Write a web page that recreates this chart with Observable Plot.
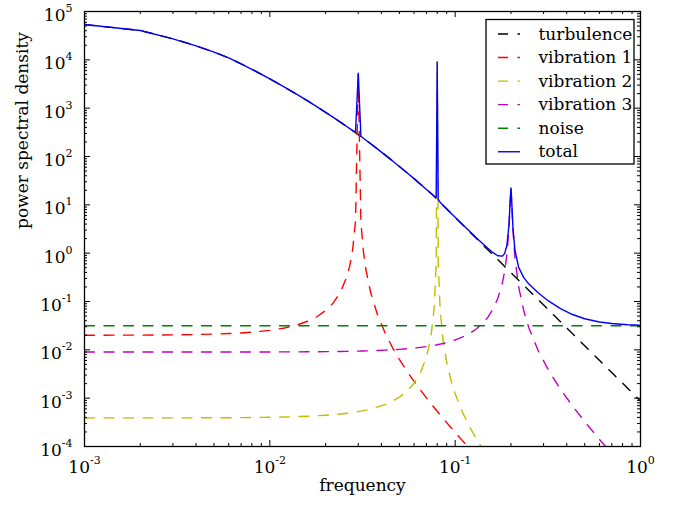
<!DOCTYPE html>
<html><head><meta charset="utf-8">
<script src="https://cdn.jsdelivr.net/npm/d3@7"></script>
<script src="https://cdn.jsdelivr.net/npm/@observablehq/plot@0.6"></script>
<style>
body{margin:0;background:#fff;}
#chart{width:682px;height:508px;}
</style></head><body><div id="chart"></div>
<script>
// ---- data ----
const freq = [0.001,0.002,0.003,0.004,0.005,0.006,0.007,0.008,0.01,0.012,0.014,0.016,0.018,
  0.02,0.022,0.024,0.026,0.027,0.028,0.029,0.03,0.031,0.032,0.033,0.035,0.038,
  0.042,0.046,0.05,0.055,0.06,0.065,0.07,0.074,0.077,0.079,0.08,0.081,0.083,0.086,0.09,0.095,
  0.1,0.11,0.12,0.13,0.14,0.15,0.16,0.17,0.18,0.185,0.19,0.195,0.198,
  0.2,0.202,0.205,0.21,0.22,0.235,0.25,0.28,0.32,0.37,0.43,0.5,0.6,0.7,0.85,1.0];

const turbulence = [53700,40460,27230,19500,14390,10960,8280,6380,4050,2720,1920,1410,1064,
  820,647,516,418,378,343,312,284,259,237,217,184,144,
  107,80.7,62.2,46.1,34.8,26.7,20.8,17.3,15.1,13.6,12.9,12.3,11.2,9.77,8.22,6.67,
  5.50,3.84,2.75,2.03,1.53,1.18,0.923,0.735,0.590,0.531,0.479,0.435,0.408,
  0.394,0.380,0.358,0.328,0.275,0.214,0.169,0.110,0.0662,0.0382,0.0216,0.0121,0.00608,0.00338,0.00162,0.00087];

const vibration1 = [0.02004,0.02018,0.02041,0.02073,0.02116,0.0217,0.02237,0.02318,0.02531,0.02834,0.03269,0.03906,0.04883,
  0.0648,0.0936,0.1543,0.3229,0.554,1.204,4.65,5000,4.35,1.054,0.4535,0.1534,0.05474,
  0.0217,0.01096,0.006328,0.003588,0.002222,0.001465,0.001012,0.000774,0.000641,0.000568,0.000536,0.000506,0.000452,0.000384,0.0003125,0.000245,
  0.000196,0.000129,0.0000889,0.0000633];

const vibration2 = [3.901e-4,3.905e-4,3.911e-4,3.920e-4,3.931e-4,3.944e-4,3.960e-4,3.979e-4,4.025e-4,4.082e-4,4.150e-4,4.232e-4,4.327e-4,
  4.437e-4,4.564e-4,4.710e-4,4.876e-4,4.967e-4,5.065e-4,5.169e-4,5.281e-4,5.400e-4,5.527e-4,5.663e-4,5.965e-4,6.504e-4,
  7.433e-4,8.704e-4,1.050e-3,1.402e-3,2.038e-3,3.377e-3,7.100e-3,0.01871,0.0720,0.632,9000,0.616,0.0668,0.01610,5.527e-3,2.318e-3,
  1.233e-3,4.917e-4,2.496e-4,1.449e-4,9.17e-5,6.16e-5];

const vibration3 = [0.009,0.009002,0.009004,0.009007,0.009011,0.009016,0.009022,0.009029,0.009045,0.009065,0.009089,0.009116,0.009147,
  0.009183,0.009222,0.009265,0.009312,0.009337,0.009363,0.009391,0.009419,0.009449,0.009479,0.009511,0.009578,0.009687,
  0.00985,0.010033,0.01024,0.010533,0.010868,0.011251,0.011688,0.012082,0.012405,0.012635,0.012755,0.012878,0.013135,0.013546,0.014151,0.015009,
  0.016,0.018499,0.021973,0.026986,0.034602,0.04702,0.06931,0.11643,0.24704,0.42463,0.9113,3.1825,11.28,
  21.95,10.95,3.006,0.8213,0.20181,0.061881,0.028387,0.009766,0.003698,0.001534,0.000686,0.0003265,0.0001406,0.0000711,0.0000309,0.0000156];

const noiseFreq = [0.001, 1.0];
const noiseLevel = [0.0315, 0.0315];

const total = [53700,40460,27230,19500,14390,10960,8280,6380,4050,2720,1920,1410,1064,
  820.1,647.1,516.2,418.3,378.6,344.2,316.7,5284,263.4,238.1,217.5,184.2,144.1,
  107.0,80.75,62.24,46.14,34.84,26.75,20.85,17.36,15.22,14.28,9013,12.96,11.31,9.83,8.27,6.72,
  5.55,3.89,2.80,2.09,1.60,1.26,1.024,0.883,0.869,0.988,1.422,3.65,11.72,
  22.38,11.36,3.40,1.181,0.509,0.308,0.229,0.152,0.1014,0.0712,0.0538,0.0439,0.0377,0.0350,0.0331,0.0324];

const seriesNames = ["turbulence", "vibration 1", "vibration 2", "vibration 3", "noise", "total"];
const seriesColors = ["#000000", "#ff0000", "#bfbf00", "#bf00bf", "#008000", "#0000ff"];
const seriesDashed = [true, true, true, true, true, false];

const xTicks = [1e-3, 1e-2, 1e-1, 1];
const yTicks = [1e-4, 1e-3, 1e-2, 1e-1, 1, 1e1, 1e2, 1e3, 1e4, 1e5];
const xLabel = "frequency";
const yLabel = "power spectral density";

// ---- build tables ----
function rows(fs, vs) {
  return fs.map((f, i) => ({f, v: vs[i] ?? null})).filter(d => d.v != null);
}
const seriesData = [
  rows(freq, turbulence),
  rows(freq, vibration1),
  rows(freq, vibration2),
  rows(freq, vibration3),
  rows(noiseFreq, noiseLevel),
  rows(freq, total)
];

function minorTicks(lo, hi) {
  const out = [];
  for (let e = lo; e < hi; e++) for (let k = 2; k <= 9; k++) out.push(k * Math.pow(10, e));
  return out;
}
const xMinor = minorTicks(-3, 0);
const yMinor = minorTicks(-4, 5);

const fmt = d => "10^" + Math.round(Math.log10(d));
const DASH = "10,9.5";

const W = 682, H = 508, ML = 84, MR = 42, MT = 11, MB = 62;
const FW = W - ML - MR, FH = H - MT - MB;

const lineMarks = seriesData.map((data, i) => Plot.line(data, {
  x: "f", y: "v", stroke: seriesColors[i], strokeWidth: 1.4,
  strokeDasharray: seriesDashed[i] ? DASH : null, clip: true
}));

// inward tick marks on all four sides, drawn as short rules
const ts = {stroke: "black", strokeWidth: 1};
const tickMarks = [
  Plot.ruleX(xMinor, {x: d => d, insetTop: FH - 3, ...ts}),
  Plot.ruleX(xMinor, {x: d => d, insetBottom: FH - 3, ...ts}),
  Plot.ruleX(xTicks, {x: d => d, insetTop: FH - 6, ...ts}),
  Plot.ruleX(xTicks, {x: d => d, insetBottom: FH - 6, ...ts}),
  Plot.ruleY(yMinor, {y: d => d, insetRight: FW - 3, ...ts}),
  Plot.ruleY(yMinor, {y: d => d, insetLeft: FW - 3, ...ts}),
  Plot.ruleY(yTicks, {y: d => d, insetRight: FW - 6, ...ts}),
  Plot.ruleY(yTicks, {y: d => d, insetLeft: FW - 6, ...ts})
];

const plot = Plot.plot({
  width: W, height: H,
  marginLeft: ML, marginRight: MR, marginTop: MT, marginBottom: MB,
  style: {fontFamily: "DejaVu Serif", fontSize: "17px", background: "white", color: "black"},
  x: {type: "log", domain: [1e-3, 1], axis: null},
  y: {type: "log", domain: [1e-4, 1e5], axis: null},
  marks: [
    ...lineMarks,
    ...tickMarks,
    Plot.axisX(xTicks, {anchor: "bottom", tickSize: 0, tickPadding: 14, tickFormat: fmt, label: null, fill: "black"}),
    Plot.axisY(yTicks, {anchor: "left", tickSize: 0, tickPadding: 12, tickFormat: fmt, dy: 4, label: null, fill: "black"}),
    Plot.frame({stroke: "black", strokeWidth: 1.3}),
    Plot.text([xLabel], {frameAnchor: "bottom", dy: 44, text: d => d, fill: "black"}),
    Plot.text([yLabel], {frameAnchor: "left", rotate: -90, dx: -62, text: d => d, fill: "black"})
  ]
});

// superscript exponents in tick labels
d3.select(plot).selectAll("text").each(function () {
  const m = /^10\^(-?\d+)$/.exec(this.textContent);
  if (m) {
    const s = d3.select(this);
    s.text("10");
    s.append("tspan").attr("dy", "-9").attr("font-size", "11px").text(m[1]);
  }
});

// legend box inside the axes (upper right)
const svg = d3.select(plot);
const lg = svg.append("g").attr("font-family", "DejaVu Serif").attr("font-size", "17px")
  .attr("text-anchor", "start");
lg.append("rect").attr("x", 486).attr("y", 19.5).attr("width", 148).attr("height", 144.5)
  .attr("fill", "white").attr("stroke", "black").attr("stroke-width", 1.3);
seriesNames.forEach((name, i) => {
  const cy = 34 + i * 23.55;
  lg.append("line").attr("x1", 498).attr("x2", 520).attr("y1", cy).attr("y2", cy)
    .attr("stroke", seriesColors[i]).attr("stroke-width", 1.4)
    .attr("stroke-dasharray", seriesDashed[i] ? DASH : null);
  lg.append("text").attr("x", 538.5).attr("y", cy + 5.5).attr("fill", "black")
    .attr("text-anchor", "start").text(name);
});

document.getElementById("chart").appendChild(plot);
</script>
</body></html>
